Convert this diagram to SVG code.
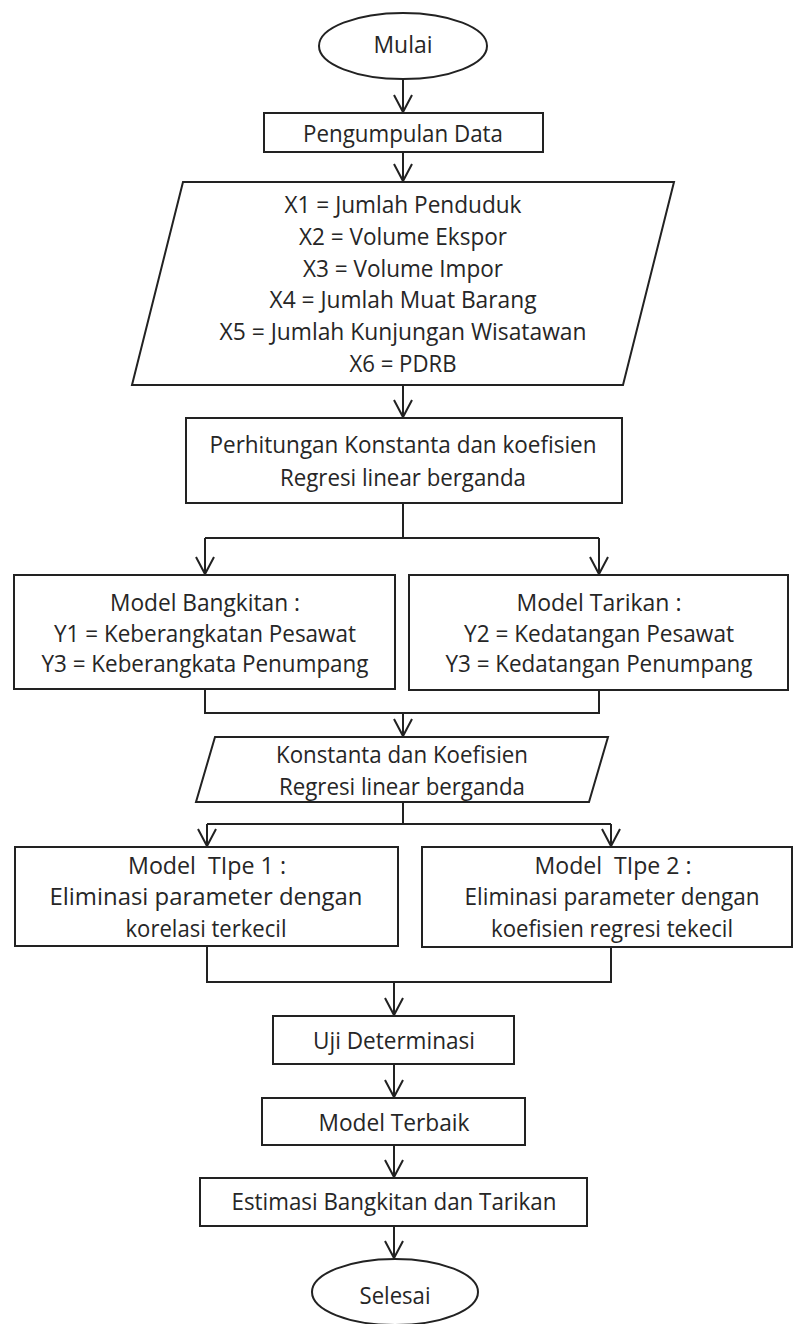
<svg xmlns="http://www.w3.org/2000/svg" width="794" height="1324" viewBox="0 0 794 1324">
<style>
  .shape { fill: #ffffff; stroke: #222222; stroke-width: 2; }
  .conn { fill: none; stroke: #222222; stroke-width: 2; }
  .t { font-family: "Open Sans", "Liberation Sans", sans-serif; font-size: 23px; fill: #262626; white-space: pre; }
</style>
<defs>
  <marker id="arr" markerUnits="userSpaceOnUse" markerWidth="24" markerHeight="24" viewBox="-20 -12 24 24" refX="0" refY="0" orient="auto">
    <path d="M-17,-9 L0,0 L-17,9" fill="none" stroke="#222222" stroke-width="2"/>
  </marker>
</defs>
<rect width="794" height="1324" fill="#ffffff"/>

<g id="connectors">
  <line class="conn" x1="403" y1="79" x2="403" y2="112" marker-end="url(#arr)"/>
  <line class="conn" x1="403" y1="152" x2="403" y2="181" marker-end="url(#arr)"/>
  <line class="conn" x1="403" y1="385" x2="403" y2="417" marker-end="url(#arr)"/>
  <polyline class="conn" points="403,503 403,538"/>
  <polyline class="conn" points="205,538 599,538"/>
  <line class="conn" x1="205" y1="538" x2="205" y2="574" marker-end="url(#arr)"/>
  <line class="conn" x1="599" y1="538" x2="599" y2="574" marker-end="url(#arr)"/>
  <polyline class="conn" points="205,689 205,713 599,713 599,690"/>
  <line class="conn" x1="403" y1="713" x2="403" y2="736" marker-end="url(#arr)"/>
  <polyline class="conn" points="403,802 403,824"/>
  <polyline class="conn" points="207,824 611,824"/>
  <line class="conn" x1="207" y1="824" x2="207" y2="846" marker-end="url(#arr)"/>
  <line class="conn" x1="611" y1="824" x2="611" y2="846" marker-end="url(#arr)"/>
  <polyline class="conn" points="207,946 207,982 611,982 611,947"/>
  <line class="conn" x1="394" y1="982" x2="394" y2="1015" marker-end="url(#arr)"/>
  <line class="conn" x1="394" y1="1064" x2="394" y2="1097" marker-end="url(#arr)"/>
  <line class="conn" x1="394" y1="1145" x2="394" y2="1177" marker-end="url(#arr)"/>
  <line class="conn" x1="394" y1="1226" x2="394" y2="1258" marker-end="url(#arr)"/>
</g>

<g id="mulai">
  <ellipse class="shape" cx="403" cy="46" rx="84" ry="33"/>
  <text class="t" x="403" y="53" text-anchor="middle" textLength="59" lengthAdjust="spacingAndGlyphs">Mulai</text>
</g>

<g id="pengumpulan">
  <rect class="shape" x="264" y="113" width="279" height="39"/>
  <text class="t" x="403" y="142" text-anchor="middle" textLength="200" lengthAdjust="spacingAndGlyphs">Pengumpulan Data</text>
</g>

<g id="data-input">
  <polygon class="shape" points="183,182 674,182 623,385 132,385"/>
  <text class="t" x="403" y="213" text-anchor="middle" textLength="237" lengthAdjust="spacingAndGlyphs">X1 = Jumlah Penduduk</text>
  <text class="t" x="403" y="245" text-anchor="middle" textLength="208" lengthAdjust="spacingAndGlyphs">X2 = Volume Ekspor</text>
  <text class="t" x="403" y="277" text-anchor="middle" textLength="200" lengthAdjust="spacingAndGlyphs">X3 = Volume Impor</text>
  <text class="t" x="403" y="308" text-anchor="middle" textLength="267" lengthAdjust="spacingAndGlyphs">X4 = Jumlah Muat Barang</text>
  <text class="t" x="403" y="340" text-anchor="middle" textLength="367" lengthAdjust="spacingAndGlyphs">X5 = Jumlah Kunjungan Wisatawan</text>
  <text class="t" x="403" y="372" text-anchor="middle" textLength="107" lengthAdjust="spacingAndGlyphs">X6 = PDRB</text>
</g>

<g id="perhitungan">
  <rect class="shape" x="186" y="418" width="436" height="85"/>
  <text class="t" x="403" y="453" text-anchor="middle" textLength="387" lengthAdjust="spacingAndGlyphs">Perhitungan Konstanta dan koefisien</text>
  <text class="t" x="403" y="486" text-anchor="middle" textLength="246" lengthAdjust="spacingAndGlyphs">Regresi linear berganda</text>
</g>

<g id="model-bangkitan">
  <rect class="shape" x="14" y="575" width="381" height="114"/>
  <text class="t" x="205" y="611" text-anchor="middle" textLength="190" lengthAdjust="spacingAndGlyphs">Model Bangkitan :</text>
  <text class="t" x="205" y="642" text-anchor="middle" textLength="302" lengthAdjust="spacingAndGlyphs">Y1 = Keberangkatan Pesawat</text>
  <text class="t" x="205" y="672" text-anchor="middle" textLength="327" lengthAdjust="spacingAndGlyphs">Y3 = Keberangkata Penumpang</text>
</g>

<g id="model-tarikan">
  <rect class="shape" x="409" y="575" width="379" height="115"/>
  <text class="t" x="599" y="611" text-anchor="middle" textLength="165" lengthAdjust="spacingAndGlyphs">Model Tarikan :</text>
  <text class="t" x="599" y="642" text-anchor="middle" textLength="270" lengthAdjust="spacingAndGlyphs">Y2 = Kedatangan Pesawat</text>
  <text class="t" x="599" y="672" text-anchor="middle" textLength="307" lengthAdjust="spacingAndGlyphs">Y3 = Kedatangan Penumpang</text>
</g>

<g id="konstanta">
  <polygon class="shape" points="215,737 608,737 589,802 196,802"/>
  <text class="t" x="402" y="763" text-anchor="middle" textLength="252" lengthAdjust="spacingAndGlyphs">Konstanta dan Koefisien</text>
  <text class="t" x="402" y="795" text-anchor="middle" textLength="246" lengthAdjust="spacingAndGlyphs">Regresi linear berganda</text>
</g>

<g id="model-tipe-1">
  <rect class="shape" x="15" y="847" width="383" height="99"/>
  <text class="t" x="207" y="874" text-anchor="middle" textLength="158" lengthAdjust="spacingAndGlyphs">Model  TIpe 1 :</text>
  <text class="t" x="206" y="905" text-anchor="middle" textLength="313" lengthAdjust="spacingAndGlyphs">Eliminasi parameter dengan</text>
  <text class="t" x="206" y="937" text-anchor="middle" textLength="161" lengthAdjust="spacingAndGlyphs">korelasi terkecil</text>
</g>

<g id="model-tipe-2">
  <rect class="shape" x="422" y="847" width="370" height="100"/>
  <text class="t" x="613" y="874" text-anchor="middle" textLength="157" lengthAdjust="spacingAndGlyphs">Model  TIpe 2 :</text>
  <text class="t" x="612" y="905" text-anchor="middle" textLength="295" lengthAdjust="spacingAndGlyphs">Eliminasi parameter dengan</text>
  <text class="t" x="612" y="937" text-anchor="middle" textLength="242" lengthAdjust="spacingAndGlyphs">koefisien regresi tekecil</text>
</g>

<g id="uji-determinasi">
  <rect class="shape" x="273" y="1016" width="241" height="48"/>
  <text class="t" x="394" y="1049" text-anchor="middle" textLength="162" lengthAdjust="spacingAndGlyphs">Uji Determinasi</text>
</g>

<g id="model-terbaik">
  <rect class="shape" x="262" y="1098" width="263" height="47"/>
  <text class="t" x="394" y="1131" text-anchor="middle" textLength="151" lengthAdjust="spacingAndGlyphs">Model Terbaik</text>
</g>

<g id="estimasi">
  <rect class="shape" x="200" y="1178" width="387" height="48"/>
  <text class="t" x="394" y="1210" text-anchor="middle" textLength="325" lengthAdjust="spacingAndGlyphs">Estimasi Bangkitan dan Tarikan</text>
</g>

<g id="selesai">
  <ellipse class="shape" cx="395" cy="1292" rx="83" ry="33"/>
  <text class="t" x="395" y="1304" text-anchor="middle" textLength="71" lengthAdjust="spacingAndGlyphs">Selesai</text>
</g>
</svg>
